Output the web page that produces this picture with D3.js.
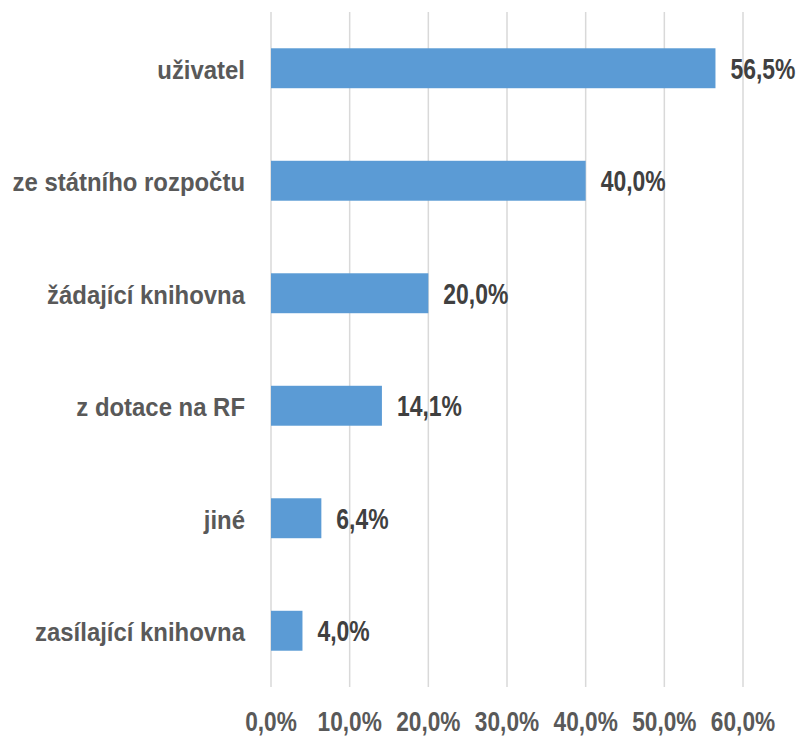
<!DOCTYPE html>
<html>
<head>
<meta charset="utf-8">
<script src="https://cdn.jsdelivr.net/npm/d3@7"></script>
<style>
  body { margin: 0; background: #fff; }
  text { font-family: "Liberation Sans", Arial, sans-serif; font-weight: bold; }
</style>
</head>
<body>
<svg width="803" height="738"></svg>
<script>
// data
const categories = ["uživatel", "ze státního rozpočtu", "žádající knihovna", "z dotace na RF", "jiné", "zasílající knihovna"];
const values = [56.5, 40.0, 20.0, 14.1, 6.4, 4.0];
const ticks = [0, 10, 20, 30, 40, 50, 60];

const svg = d3.select("svg");
const fmt = v => v.toFixed(1).replace(".", ",") + "%";
// úzké písmo = Arial stlačený vodorovně
const narrow = (px, py, s) => `translate(${px},${py}) scale(${s},1)`;

const x = d3.scaleLinear().domain([0, 60]).range([271, 743]);
const y = d3.scaleBand().domain(categories).range([12, 687]).paddingInner(0.645).paddingOuter(0.3225);

// mřížka
svg.append("g")
  .selectAll("line")
  .data(ticks)
  .join("line")
  .attr("x1", d => x(d))
  .attr("x2", d => x(d))
  .attr("y1", 12)
  .attr("y2", 687)
  .attr("stroke", "#d9d9d9")
  .attr("stroke-width", 1.5);

// pruhy
svg.append("g")
  .selectAll("rect")
  .data(values)
  .join("rect")
  .attr("x", x(0))
  .attr("y", (d, i) => y(categories[i]))
  .attr("width", d => x(d) - x(0))
  .attr("height", y.bandwidth())
  .attr("fill", "#5b9bd5");

// popisky hodnot
svg.append("g")
  .selectAll("text")
  .data(values)
  .join("text")
  .attr("transform", (d, i) => narrow(x(d) + 15, y(categories[i]) + y.bandwidth() / 2 + 10.5, 0.79))
  .attr("font-size", "29px")
  .attr("fill", "#404040")
  .text(d => fmt(d));

// kategorie
svg.append("g")
  .selectAll("text")
  .data(categories)
  .join("text")
  .attr("transform", d => narrow(245, y(d) + y.bandwidth() / 2 + 10.5, 0.92))
  .attr("text-anchor", "end")
  .attr("font-size", "26px")
  .attr("fill", "#595959")
  .text(d => d);

// osa x
svg.append("g")
  .selectAll("text")
  .data(ticks)
  .join("text")
  .attr("transform", d => narrow(x(d), 731, 0.84))
  .attr("text-anchor", "middle")
  .attr("font-size", "27px")
  .attr("fill", "#595959")
  .text(d => fmt(d));
</script>
</body>
</html>
